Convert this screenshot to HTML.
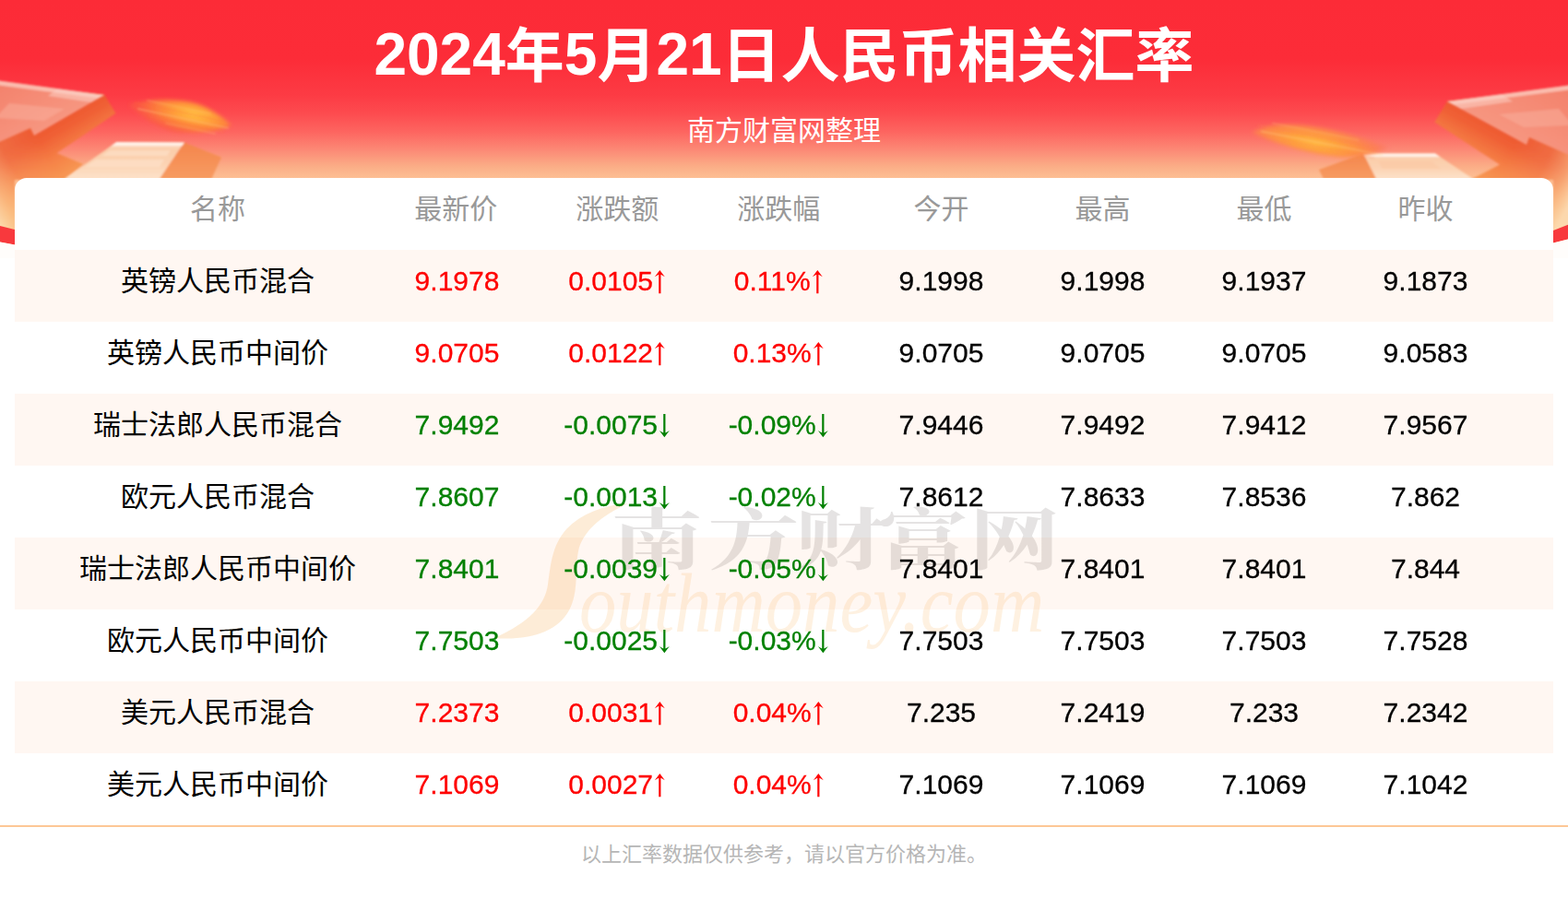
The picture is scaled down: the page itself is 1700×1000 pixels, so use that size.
<!DOCTYPE html>
<html lang="zh-CN"><head><meta charset="utf-8"><title>2024年5月21日人民币相关汇率</title>
<style>
*{box-sizing:border-box;margin:0;padding:0}
html,body{width:1700px;height:1000px;overflow:hidden;background:#fff}
body{position:relative;font-family:"Liberation Sans","Noto Sans CJK SC",sans-serif;color:#000}
.banner{position:absolute;left:0;top:0;width:1700px;height:280px;overflow:hidden;
 background:linear-gradient(to bottom,#fc2b37 0,#fc2c38 64px,#fc3b44 103px,#fd4b4f 123px,#fd6560 143px,#fc8875 162px,#fbae87 181px,#fdc095 194px,#fdd0a8 270px)}
.cj{position:relative;display:inline;line-height:1;white-space:nowrap;font-family:"Liberation Sans","Noto Sans CJK SC",sans-serif}
.title{position:absolute;left:0;top:0;width:1700px;height:120px;text-align:center;font-size:64px;font-weight:bold;color:#fff;line-height:1;white-space:nowrap;padding-top:27px}
.title .cj{top:0.034em}
.sub{position:absolute;left:0;top:126.6px;width:1700px;text-align:center;font-size:30px;line-height:1;color:#fff}
.table{position:absolute;left:16px;top:193px;width:1668px;height:702px;background:#fff;border-radius:13px 13px 0 0;overflow:hidden}
.tr{position:relative;height:78px;width:1668px}
.tr.odd{background:#fff7f2}
.td{position:absolute;top:0;height:78px;width:175px;text-align:center;font-size:30px;line-height:1;white-space:nowrap;padding-top:19px}
.c0{left:48.5px;width:343px}
.c1{left:392px}.c2{left:567px}.c3{left:742px}.c4{left:917px}.c5{left:1092px}.c6{left:1267px}.c7{left:1442px}
.up{color:#f00}.dn{color:#008000}
.n{display:inline-block;position:relative}
.d{display:inline-block;position:relative;top:-0.3px;transform:scaleY(1.003);transform-origin:50% 25.4px;-webkit-text-stroke:0.3px currentColor}
.ar{display:inline-block;vertical-align:baseline;overflow:visible;margin-bottom:-3.3px}
.art{position:absolute;width:1px;height:1px;overflow:hidden;color:transparent;font-size:1px}
.foot{position:absolute;left:0;top:895px;width:1700px;height:105px;border-top:2px solid #fdc796;text-align:center;font-size:22px;line-height:1;padding-top:19px;color:#b6b6b6}

.decor{position:absolute;left:0;top:0;display:block}

.td{z-index:2}
.wm{position:absolute;left:-16px;top:-193px;width:1700px;height:1000px;z-index:1;pointer-events:none}
.wmt{position:absolute;left:628px;top:608px;font-family:"Liberation Serif",serif;font-style:italic;font-size:92px;line-height:1;color:rgba(247,160,53,.15);white-space:nowrap;transform:scaleX(.877);transform-origin:0 0}

.th{color:#999}
.th .c1,.th .c2,.th .c3{transform:translateX(-1.3px)}

</style></head><body>
<div class="banner"><svg class="decor" width="1700" height="280" viewBox="0 0 1700 280" aria-hidden="true">
<defs>
<linearGradient id="lgTop" x1="0" y1="0" x2="1" y2="1"><stop offset="0" stop-color="#f3806a"/><stop offset="1" stop-color="#f9a48e"/></linearGradient>
<linearGradient id="lgTopR" x1="1" y1="0" x2="0" y2="1"><stop offset="0" stop-color="#f3806a"/><stop offset="1" stop-color="#f9a48e"/></linearGradient>
<linearGradient id="lgSide" gradientUnits="userSpaceOnUse" x1="75" y1="125" x2="108" y2="182"><stop offset="0" stop-color="#ee5931"/><stop offset=".15" stop-color="#f06035"/><stop offset=".5" stop-color="#f58046"/><stop offset=".8" stop-color="#f79552"/><stop offset="1" stop-color="#f8a05a"/></linearGradient>
<linearGradient id="lgOv" gradientUnits="userSpaceOnUse" x1="113" y1="103" x2="-34" y2="188"><stop offset=".5" stop-color="#fdd9a4" stop-opacity="0"/><stop offset=".74" stop-color="#fdd9a4" stop-opacity=".15"/><stop offset=".88" stop-color="#fdd9a4" stop-opacity=".5"/><stop offset="1" stop-color="#fde0b8" stop-opacity=".9"/></linearGradient>
<linearGradient id="lgSideR" gradientUnits="userSpaceOnUse" x1="1612" y1="133.500" x2="1580.300" y2="191.400"><stop offset="0" stop-color="#ee5931"/><stop offset=".15" stop-color="#f06035"/><stop offset=".5" stop-color="#f58046"/><stop offset=".8" stop-color="#f79552"/><stop offset="1" stop-color="#f8a05a"/></linearGradient>
<linearGradient id="lgOvR" gradientUnits="userSpaceOnUse" x1="1569" y1="110" x2="1718" y2="191.500"><stop offset=".5" stop-color="#fdd9a4" stop-opacity="0"/><stop offset=".74" stop-color="#fdd9a4" stop-opacity=".15"/><stop offset=".88" stop-color="#fdd9a4" stop-opacity=".5"/><stop offset="1" stop-color="#fde0b8" stop-opacity=".9"/></linearGradient>
<linearGradient id="lgFadeL" gradientUnits="userSpaceOnUse" x1="60" y1="150" x2="112" y2="180"><stop offset="0" stop-color="#fff" stop-opacity="1"/><stop offset=".55" stop-color="#fff" stop-opacity="1"/><stop offset="1" stop-color="#fff" stop-opacity=".25"/></linearGradient>
<linearGradient id="lgCube" x1="0" y1="0" x2="0" y2="1"><stop offset="0" stop-color="#fee6d4"/><stop offset=".2" stop-color="#fbcdaa"/><stop offset=".6" stop-color="#fcd3b3"/><stop offset="1" stop-color="#fde3cb"/></linearGradient>
<linearGradient id="lgCubeS" x1="0" y1="0" x2="0" y2="1"><stop offset="0" stop-color="#f4854c"/><stop offset="1" stop-color="#f79c62"/></linearGradient>
<radialGradient id="rgBlob" gradientUnits="userSpaceOnUse" cx="210" cy="124" r="62" gradientTransform="translate(210 124) rotate(12) scale(1 .36) translate(-210 -124)"><stop offset="0" stop-color="#ffc042"/><stop offset=".3" stop-color="#ffa63a"/><stop offset=".65" stop-color="#fd803c"/><stop offset="1" stop-color="#fb5c42" stop-opacity=".75"/></radialGradient>
<radialGradient id="rgBlobR" gradientUnits="userSpaceOnUse" cx="1426" cy="155" r="82" gradientTransform="translate(1426 155) rotate(11) scale(1 .26) translate(-1426 -155)"><stop offset="0" stop-color="#ffb840"/><stop offset=".35" stop-color="#fea03e"/><stop offset=".7" stop-color="#fd8848" stop-opacity=".95"/><stop offset="1" stop-color="#fc7658" stop-opacity=".6"/></radialGradient>
<filter id="bl2" x="-20%" y="-30%" width="140%" height="160%"><feGaussianBlur stdDeviation="2"/></filter>
<filter id="bl1" x="-10%" y="-10%" width="120%" height="120%"><feGaussianBlur stdDeviation="0.8"/></filter>
<filter id="bl3" x="-10%" y="-10%" width="120%" height="120%"><feGaussianBlur stdDeviation="1.2"/></filter>
</defs>
<!-- left arrow -->
<g filter="url(#bl3)"><path d="M-8 96 L113.300 102.700 L125.400 123 L61.600 166 L90.200 178 L70 195 L16 195 L16 268 L-8 268 Z" fill="url(#lgSide)"/><path d="M-8 96 L113.300 102.700 L125.400 123 L61.600 166 L90.200 178 L70 195 L16 195 L16 268 L-8 268 Z" fill="url(#lgOv)"/></g>
<g filter="url(#bl1)">
<path d="M-5 87 L113 103 L37 147 L33 139 L-5 156 Z" fill="url(#lgTop)"/>
<path d="M-5 87 L113 103 L106 106.500 L-5 92 Z" fill="#fcc6b8" opacity=".85"/>
<path d="M10 112 L70 118 L48 131 L-5 128 Z" fill="#fbb3a2" opacity=".45"/>
<path d="M62 96.500 L113 103 L99 111 L52 104 Z" fill="#fcd0c4" opacity=".55"/>
</g>
<!-- left cube -->
<g filter="url(#bl1)">
<path d="M126.400 154 L199.800 154.500 L173 194 L70 194 Z" fill="url(#lgCube)"/>
<path d="M199.800 154.500 L240 170.500 L229.400 194 L173 194 Z" fill="url(#lgCubeS)"/>
<path d="M126.400 154 L199.800 154.500 L197.500 158 L121 158 Z" fill="#fff3ea" opacity=".9"/>
<path d="M119 163 L185 163 L181 169 L110 169 Z M104 173 L178 173 L173 181 L92 181 Z" fill="#fde2cc" opacity=".6"/>
</g>
<!-- left blob -->
<g filter="url(#bl2)">
<path d="M140.500 113.400C155 108 185 106 208 111C225 115 242 127 250.600 136C240 142 215 145 194 143.700C172 141 150 125 140.500 113.400Z" fill="url(#rgBlob)"/>
</g>
<g fill="none" filter="url(#bl1)"><path d="M159.7 108.9L228.2 123.4" stroke="#ffd27a" stroke-opacity="0.35" stroke-width="1.2" stroke-linecap="round"/><path d="M147.0 111.3L241.8 131.4" stroke="#fb6a3c" stroke-opacity="0.3" stroke-width="1.4" stroke-linecap="round"/><path d="M149.6 118.0L247.4 138.8" stroke="#ffd88a" stroke-opacity="0.4" stroke-width="1.3" stroke-linecap="round"/><path d="M161.3 125.6L242.5 142.8" stroke="#fb6a3c" stroke-opacity="0.25" stroke-width="1.2" stroke-linecap="round"/><path d="M180.0 133.6L233.8 145.1" stroke="#ffd27a" stroke-opacity="0.3" stroke-width="1.1" stroke-linecap="round"/></g>
<!-- right arrow -->
<g filter="url(#bl3)"><path d="M1708 100 L1569 110 L1555.400 132.400 L1626 178.500 L1594 195 L1684 195 L1684 268 L1708 268 Z" fill="url(#lgSideR)"/><path d="M1708 100 L1569 110 L1555.400 132.400 L1626 178.500 L1594 195 L1684 195 L1684 268 L1708 268 Z" fill="url(#lgOvR)"/></g>
<g filter="url(#bl1)">
<path d="M1705 92 L1569 110 L1655 157 L1658 149 L1705 170 Z" fill="url(#lgTopR)"/>
<path d="M1705 92 L1569 110 L1576 113.500 L1705 97 Z" fill="#fcc6b8" opacity=".85"/>
<path d="M1690 118 L1625 124 L1652 138 L1705 136 Z" fill="#fbb3a2" opacity=".45"/>
<path d="M1628 102.500 L1569 110 L1584 118 L1640 110 Z" fill="#fcd0c4" opacity=".55"/>
</g>
<!-- right cube -->
<g filter="url(#bl1)">
<path d="M1478 166.400 L1556 166.400 L1597 194 L1492 194 Z" fill="url(#lgCube)"/>
<path d="M1478 166.400 L1430 184 L1435 194 L1492 194 Z" fill="url(#lgCubeS)"/>
<path d="M1478 166.400 L1556 166.400 L1561 170 L1480 170 Z" fill="#fff3ea" opacity=".9"/>
<path d="M1494 175 L1552 175 L1562 183 L1499 183 Z" fill="#fbc8a4" opacity=".6"/>
</g>
<!-- right blob -->
<g filter="url(#bl2)">
<path d="M1357 143.500C1375 134 1400 133 1430 138C1460 143 1490 152 1505 160C1490 168 1470 172 1450 170C1420 167 1380 155 1357 143.500Z" fill="url(#rgBlobR)"/>
</g>
<g fill="none" filter="url(#bl1)"><path d="M1379.5 133.7L1472.8 151.8" stroke="#ffd27a" stroke-opacity="0.3" stroke-width="1.2" stroke-linecap="round"/><path d="M1363.9 135.7L1491.5 160.5" stroke="#fb7a4c" stroke-opacity="0.3" stroke-width="1.4" stroke-linecap="round"/><path d="M1367.6 142.5L1498.2 167.9" stroke="#ffd88a" stroke-opacity="0.4" stroke-width="1.3" stroke-linecap="round"/><path d="M1391.2 152.2L1489.4 171.3" stroke="#fb7a4c" stroke-opacity="0.25" stroke-width="1.2" stroke-linecap="round"/></g>
<!-- red bands at bottom corners -->
<path d="M-2 244.500 L16 249 L16 265.500 L-2 262 Z" fill="#f8393d"/>
<path d="M1702 243 L1684 250 L1684 263.500 L1702 259 Z" fill="#f8393d"/>
<path d="M-2 262 L16 265.500 L16 282 L-2 282 Z" fill="#fffdfb"/>
<path d="M1702 259 L1684 263.500 L1684 282 L1702 282 Z" fill="#fffdfb"/>
</svg>
</div>
<h1 class="title"><span>2024</span><span class="cj">年</span><span>5</span><span class="cj">月</span><span>21</span><span class="cj">日人民币相关汇率</span></h1>
<div class="sub"><span class="cj">南方财富网整理</span></div>
<div class="table"><div class="tr th"><div class="td c0"><span class="cj">名称</span></div><div class="td c1"><span class="cj">最新价</span></div><div class="td c2"><span class="cj">涨跌额</span></div><div class="td c3"><span class="cj">涨跌幅</span></div><div class="td c4"><span class="cj">今开</span></div><div class="td c5"><span class="cj">最高</span></div><div class="td c6"><span class="cj">最低</span></div><div class="td c7"><span class="cj">昨收</span></div></div><div class="tr odd"><div class="td c0"><span class="cj">英镑人民币混合</span></div><div class="td c1 up"><span class="n"><span class="d">9.1978</span></span></div><div class="td c2 up"><span class="n"><span class="d">0.0105</span><svg class="ar" width="16.68" height="25.2" viewBox="0 0 16.68 25.2" aria-hidden="true"><path d="M7.34 0L12.8 7.3Q10 5.5 8.44 4.8L8.44 25.2L6.24 25.2L6.24 4.8Q4.7 5.5 1.88 7.3Z" fill="currentColor"/></svg><span class="art">↑</span></span></div><div class="td c3 up"><span class="n"><span class="d">0.11%</span><svg class="ar" width="16.68" height="25.2" viewBox="0 0 16.68 25.2" aria-hidden="true"><path d="M7.34 0L12.8 7.3Q10 5.5 8.44 4.8L8.44 25.2L6.24 25.2L6.24 4.8Q4.7 5.5 1.88 7.3Z" fill="currentColor"/></svg><span class="art">↑</span></span></div><div class="td c4"><span class="n"><span class="d">9.1998</span></span></div><div class="td c5"><span class="n"><span class="d">9.1998</span></span></div><div class="td c6"><span class="n"><span class="d">9.1937</span></span></div><div class="td c7"><span class="n"><span class="d">9.1873</span></span></div></div><div class="tr even"><div class="td c0"><span class="cj">英镑人民币中间价</span></div><div class="td c1 up"><span class="n"><span class="d">9.0705</span></span></div><div class="td c2 up"><span class="n"><span class="d">0.0122</span><svg class="ar" width="16.68" height="25.2" viewBox="0 0 16.68 25.2" aria-hidden="true"><path d="M7.34 0L12.8 7.3Q10 5.5 8.44 4.8L8.44 25.2L6.24 25.2L6.24 4.8Q4.7 5.5 1.88 7.3Z" fill="currentColor"/></svg><span class="art">↑</span></span></div><div class="td c3 up"><span class="n"><span class="d">0.13%</span><svg class="ar" width="16.68" height="25.2" viewBox="0 0 16.68 25.2" aria-hidden="true"><path d="M7.34 0L12.8 7.3Q10 5.5 8.44 4.8L8.44 25.2L6.24 25.2L6.24 4.8Q4.7 5.5 1.88 7.3Z" fill="currentColor"/></svg><span class="art">↑</span></span></div><div class="td c4"><span class="n"><span class="d">9.0705</span></span></div><div class="td c5"><span class="n"><span class="d">9.0705</span></span></div><div class="td c6"><span class="n"><span class="d">9.0705</span></span></div><div class="td c7"><span class="n"><span class="d">9.0583</span></span></div></div><div class="tr odd"><div class="td c0"><span class="cj">瑞士法郎人民币混合</span></div><div class="td c1 dn"><span class="n"><span class="d">7.9492</span></span></div><div class="td c2 dn"><span class="n"><span class="d">-0.0075</span><svg class="ar" width="16.68" height="25.2" viewBox="0 0 16.68 25.2" aria-hidden="true"><path d="M7.34 25.2L12.8 17.9Q10 19.7 8.44 20.4L8.44 0L6.24 0L6.24 20.4Q4.7 19.7 1.88 17.9Z" fill="currentColor"/></svg><span class="art">↓</span></span></div><div class="td c3 dn"><span class="n"><span class="d">-0.09%</span><svg class="ar" width="16.68" height="25.2" viewBox="0 0 16.68 25.2" aria-hidden="true"><path d="M7.34 25.2L12.8 17.9Q10 19.7 8.44 20.4L8.44 0L6.24 0L6.24 20.4Q4.7 19.7 1.88 17.9Z" fill="currentColor"/></svg><span class="art">↓</span></span></div><div class="td c4"><span class="n"><span class="d">7.9446</span></span></div><div class="td c5"><span class="n"><span class="d">7.9492</span></span></div><div class="td c6"><span class="n"><span class="d">7.9412</span></span></div><div class="td c7"><span class="n"><span class="d">7.9567</span></span></div></div><div class="tr even"><div class="td c0"><span class="cj">欧元人民币混合</span></div><div class="td c1 dn"><span class="n"><span class="d">7.8607</span></span></div><div class="td c2 dn"><span class="n"><span class="d">-0.0013</span><svg class="ar" width="16.68" height="25.2" viewBox="0 0 16.68 25.2" aria-hidden="true"><path d="M7.34 25.2L12.8 17.9Q10 19.7 8.44 20.4L8.44 0L6.24 0L6.24 20.4Q4.7 19.7 1.88 17.9Z" fill="currentColor"/></svg><span class="art">↓</span></span></div><div class="td c3 dn"><span class="n"><span class="d">-0.02%</span><svg class="ar" width="16.68" height="25.2" viewBox="0 0 16.68 25.2" aria-hidden="true"><path d="M7.34 25.2L12.8 17.9Q10 19.7 8.44 20.4L8.44 0L6.24 0L6.24 20.4Q4.7 19.7 1.88 17.9Z" fill="currentColor"/></svg><span class="art">↓</span></span></div><div class="td c4"><span class="n"><span class="d">7.8612</span></span></div><div class="td c5"><span class="n"><span class="d">7.8633</span></span></div><div class="td c6"><span class="n"><span class="d">7.8536</span></span></div><div class="td c7"><span class="n"><span class="d">7.862</span></span></div></div><div class="tr odd"><div class="td c0"><span class="cj">瑞士法郎人民币中间价</span></div><div class="td c1 dn"><span class="n"><span class="d">7.8401</span></span></div><div class="td c2 dn"><span class="n"><span class="d">-0.0039</span><svg class="ar" width="16.68" height="25.2" viewBox="0 0 16.68 25.2" aria-hidden="true"><path d="M7.34 25.2L12.8 17.9Q10 19.7 8.44 20.4L8.44 0L6.24 0L6.24 20.4Q4.7 19.7 1.88 17.9Z" fill="currentColor"/></svg><span class="art">↓</span></span></div><div class="td c3 dn"><span class="n"><span class="d">-0.05%</span><svg class="ar" width="16.68" height="25.2" viewBox="0 0 16.68 25.2" aria-hidden="true"><path d="M7.34 25.2L12.8 17.9Q10 19.7 8.44 20.4L8.44 0L6.24 0L6.24 20.4Q4.7 19.7 1.88 17.9Z" fill="currentColor"/></svg><span class="art">↓</span></span></div><div class="td c4"><span class="n"><span class="d">7.8401</span></span></div><div class="td c5"><span class="n"><span class="d">7.8401</span></span></div><div class="td c6"><span class="n"><span class="d">7.8401</span></span></div><div class="td c7"><span class="n"><span class="d">7.844</span></span></div></div><div class="tr even"><div class="td c0"><span class="cj">欧元人民币中间价</span></div><div class="td c1 dn"><span class="n"><span class="d">7.7503</span></span></div><div class="td c2 dn"><span class="n"><span class="d">-0.0025</span><svg class="ar" width="16.68" height="25.2" viewBox="0 0 16.68 25.2" aria-hidden="true"><path d="M7.34 25.2L12.8 17.9Q10 19.7 8.44 20.4L8.44 0L6.24 0L6.24 20.4Q4.7 19.7 1.88 17.9Z" fill="currentColor"/></svg><span class="art">↓</span></span></div><div class="td c3 dn"><span class="n"><span class="d">-0.03%</span><svg class="ar" width="16.68" height="25.2" viewBox="0 0 16.68 25.2" aria-hidden="true"><path d="M7.34 25.2L12.8 17.9Q10 19.7 8.44 20.4L8.44 0L6.24 0L6.24 20.4Q4.7 19.7 1.88 17.9Z" fill="currentColor"/></svg><span class="art">↓</span></span></div><div class="td c4"><span class="n"><span class="d">7.7503</span></span></div><div class="td c5"><span class="n"><span class="d">7.7503</span></span></div><div class="td c6"><span class="n"><span class="d">7.7503</span></span></div><div class="td c7"><span class="n"><span class="d">7.7528</span></span></div></div><div class="tr odd"><div class="td c0"><span class="cj">美元人民币混合</span></div><div class="td c1 up"><span class="n"><span class="d">7.2373</span></span></div><div class="td c2 up"><span class="n"><span class="d">0.0031</span><svg class="ar" width="16.68" height="25.2" viewBox="0 0 16.68 25.2" aria-hidden="true"><path d="M7.34 0L12.8 7.3Q10 5.5 8.44 4.8L8.44 25.2L6.24 25.2L6.24 4.8Q4.7 5.5 1.88 7.3Z" fill="currentColor"/></svg><span class="art">↑</span></span></div><div class="td c3 up"><span class="n"><span class="d">0.04%</span><svg class="ar" width="16.68" height="25.2" viewBox="0 0 16.68 25.2" aria-hidden="true"><path d="M7.34 0L12.8 7.3Q10 5.5 8.44 4.8L8.44 25.2L6.24 25.2L6.24 4.8Q4.7 5.5 1.88 7.3Z" fill="currentColor"/></svg><span class="art">↑</span></span></div><div class="td c4"><span class="n"><span class="d">7.235</span></span></div><div class="td c5"><span class="n"><span class="d">7.2419</span></span></div><div class="td c6"><span class="n"><span class="d">7.233</span></span></div><div class="td c7"><span class="n"><span class="d">7.2342</span></span></div></div><div class="tr even"><div class="td c0"><span class="cj">美元人民币中间价</span></div><div class="td c1 up"><span class="n"><span class="d">7.1069</span></span></div><div class="td c2 up"><span class="n"><span class="d">0.0027</span><svg class="ar" width="16.68" height="25.2" viewBox="0 0 16.68 25.2" aria-hidden="true"><path d="M7.34 0L12.8 7.3Q10 5.5 8.44 4.8L8.44 25.2L6.24 25.2L6.24 4.8Q4.7 5.5 1.88 7.3Z" fill="currentColor"/></svg><span class="art">↑</span></span></div><div class="td c3 up"><span class="n"><span class="d">0.04%</span><svg class="ar" width="16.68" height="25.2" viewBox="0 0 16.68 25.2" aria-hidden="true"><path d="M7.34 0L12.8 7.3Q10 5.5 8.44 4.8L8.44 25.2L6.24 25.2L6.24 4.8Q4.7 5.5 1.88 7.3Z" fill="currentColor"/></svg><span class="art">↑</span></span></div><div class="td c4"><span class="n"><span class="d">7.1069</span></span></div><div class="td c5"><span class="n"><span class="d">7.1069</span></span></div><div class="td c6"><span class="n"><span class="d">7.1069</span></span></div><div class="td c7"><span class="n"><span class="d">7.1042</span></span></div></div><div class="wm"><svg width="1700" height="1000" viewBox="0 0 1700 1000" aria-hidden="true" style="position:absolute;left:0;top:0"><path d="M681 546 C654 548 630 557 614 574 C598 592 597 614 594 634 C591 656 574 675 536 692 C572 695 604 686 617 662 C628 642 623 616 627 598 C631 578 650 560 681 546 Z" fill="#f7a035" fill-opacity=".2"/><text transform="translate(0 611) scale(1.38 1)" x="480 556 624 689 761" y="0" font-size="72" font-weight="bold" font-family="&quot;Liberation Serif&quot;,&quot;Noto Serif CJK SC&quot;,serif" fill="#1a1008" opacity=".11">南方财富网</text></svg><div class="wmt">outhmoney.com</div></div></div>
<div class="foot"><span class="cj">以上汇率数据仅供参考，请以官方价格为准。</span></div>
</body></html>
